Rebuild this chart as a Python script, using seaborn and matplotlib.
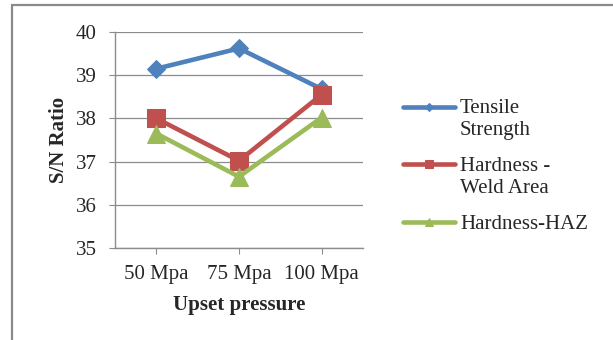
import matplotlib
matplotlib.use("Agg")
import matplotlib.pyplot as plt
import seaborn as sns
import pandas as pd
from matplotlib.patches import Rectangle
from matplotlib.lines import Line2D

pressures = ["50 Mpa", "75 Mpa", "100 Mpa"]
tensile_strength = [39.15, 39.62, 38.68]
hardness_weld = [38.0, 37.02, 38.55]
hardness_haz = [37.65, 36.65, 38.02]
series_names = ["Tensile\nStrength", "Hardness -\nWeld Area", "Hardness-HAZ"]

df = pd.DataFrame({
    "pressure": pressures * 3,
    "sn": tensile_strength + hardness_weld + hardness_haz,
    "series": [series_names[0]] * 3 + [series_names[1]] * 3 + [series_names[2]] * 3,
})

sns.set_style("white")
plt.rcParams["font.family"] = ["Liberation Serif", "DejaVu Serif"]

colors = ["#4F81BD", "#C0504D", "#9BBB59"]
markers = ["D", "s", "^"]
msizes = [9, 12.5, 13.5]
fs = 15

fig = plt.figure(figsize=(6.13, 3.40), dpi=100)
ax = fig.add_axes([115 / 613, 1 - 248 / 340, 248 / 613, 216 / 340])

for name, c, m, ms in zip(series_names, colors, markers, msizes):
    sub = df[df["series"] == name]
    sns.lineplot(data=sub, x="pressure", y="sn", ax=ax, color=c, marker=m,
                 markersize=ms, markeredgecolor=c, linewidth=3.3, label=name,
                 sort=False)

ax.set_xlim(-0.5, 2.5)
ax.set_ylim(35, 40)
ax.set_yticks(range(35, 41))
ax.yaxis.grid(True, color="#8c8c8c", linewidth=0.9)
ax.xaxis.grid(False)
for side in ["top", "right"]:
    ax.spines[side].set_visible(False)
for side in ["left", "bottom"]:
    ax.spines[side].set_color("#8c8c8c")
    ax.spines[side].set_linewidth(1.0)
ax.tick_params(axis="both", which="both", length=4, color="#8c8c8c",
               labelsize=fs, direction="out", left=True, bottom=True)
ax.tick_params(axis="y", pad=9)
ax.tick_params(axis="x", pad=8)
ax.set_xlabel("Upset pressure", fontsize=fs, fontweight="bold", labelpad=8)
ax.set_ylabel("S/N Ratio", fontsize=fs, fontweight="bold", labelpad=5)

handles, labels = ax.get_legend_handles_labels()
leg = ax.legend(handles, labels, loc="upper left", bbox_to_anchor=(403 / 613, 1 - 99 / 340),
                bbox_transform=fig.transFigure, frameon=False, fontsize=fs,
                handlelength=2.5, handletextpad=0.24, labelspacing=0.82,
                markerscale=0.45, borderpad=0, borderaxespad=0)

# put each legend key beside the first line of a two-line label
shift = fs * 1.2 / 2
for column in leg._legend_handle_box.get_children():
    for item in column.get_children():
        hbox, tbox = item.get_children()
        if "\n" in tbox._text.get_text():
            for art in hbox.get_children():
                if isinstance(art, Line2D):
                    art.set_ydata([y + shift for y in art.get_ydata()])

fig.patches.append(Rectangle((12 / 613, -0.1), 1.0, 1 - 5 / 340 + 0.1,
                             transform=fig.transFigure, fill=False,
                             edgecolor="#8a8a8a", linewidth=1.6))

fig.savefig("out.png", dpi=100)
